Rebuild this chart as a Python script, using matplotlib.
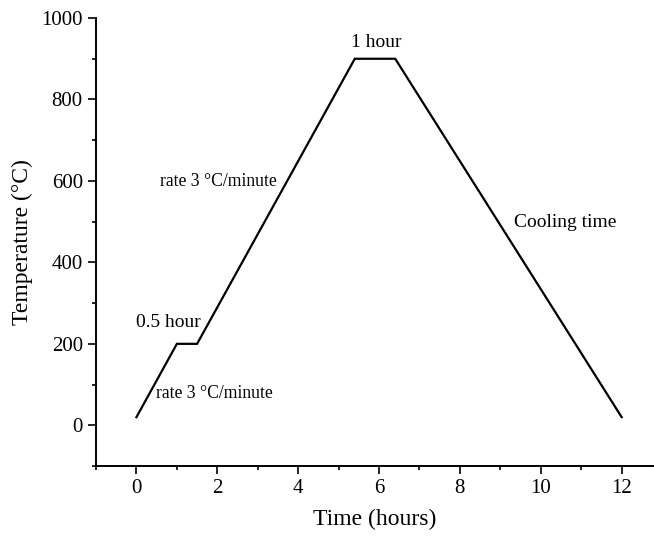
import matplotlib
matplotlib.use("Agg")
import matplotlib.pyplot as plt
from matplotlib.ticker import MultipleLocator

plt.rcParams['font.family'] = ['Liberation Serif', 'DejaVu Serif']

# 热处理曲线：时间（小时）与温度（°C）
time_h = [0, 1, 1.5, 5.4, 6.4, 12]
temp_c = [20, 200, 200, 900, 900, 20]

labels = ["1 hour", "rate 3 °C/minute", "0.5 hour", "rate 3 °C/minute", "Cooling time"]
label_x = [5.92, 0.58, 0.0, 0.48, 9.33]
label_y = [940, 598, 253, 78, 497]
label_size = [14, 12.7, 14, 12.7, 14]

fig = plt.figure(figsize=(6.54, 5.38), dpi=100)
ax = fig.add_axes([0.1468, 0.1338, 0.8532, 0.8327])
ax.plot(time_h, temp_c, color='black', lw=1.6, solid_joinstyle='miter')

ax.set_xlim(-1, 12.8)
ax.set_ylim(-100, 1000)
ax.xaxis.set_major_locator(MultipleLocator(2))
ax.xaxis.set_minor_locator(MultipleLocator(1))
ax.yaxis.set_major_locator(MultipleLocator(200))
ax.yaxis.set_minor_locator(MultipleLocator(100))
ax.tick_params(which='major', direction='out', length=6, width=1.2, labelsize=15, colors='black')
ax.tick_params(which='minor', direction='out', length=3, width=1.2)
ax.spines['top'].set_visible(False)
ax.spines['right'].set_visible(False)
for s in ('left', 'bottom'):
    ax.spines[s].set_linewidth(1.4)

ax.set_xlabel("Time (hours)", fontsize=17, labelpad=8)
ax.set_ylabel("Temperature (°C)", fontsize=17, labelpad=6)

has = ['center', 'left', 'left', 'left', 'left']
for t, x, y, ha, fs in zip(labels, label_x, label_y, has, label_size):
    ax.text(x, y, t, fontsize=fs, ha=ha, va='center')

fig.savefig("out.png", dpi=100)
